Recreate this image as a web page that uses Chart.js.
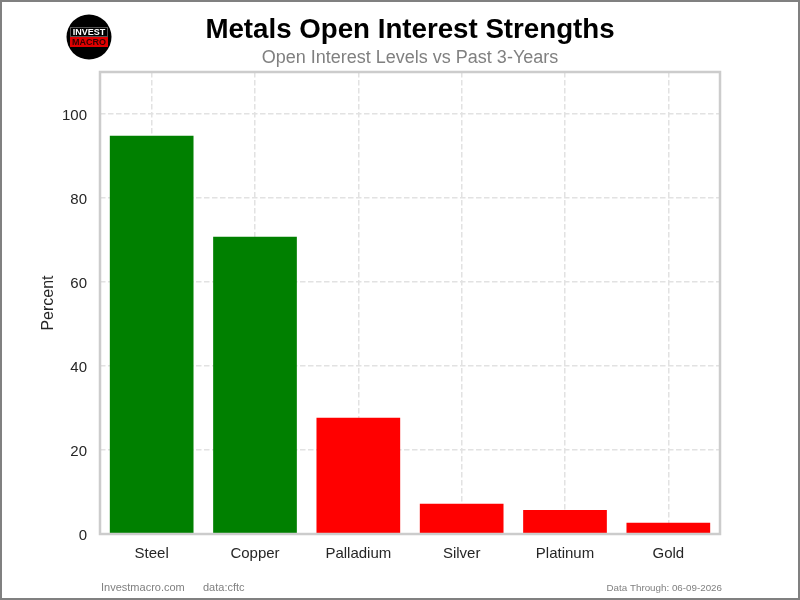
<!DOCTYPE html>
<html>
<head>
<meta charset="utf-8">
<title>Metals Open Interest Strengths</title>
<script src="https://cdn.jsdelivr.net/npm/chart.js@4/dist/chart.umd.min.js"></script>
<style>
  html, body { margin: 0; padding: 0; background: #fff; }
  #wrap { width: 800px; height: 600px; }
</style>
</head>
<body>
<div id="wrap"><canvas id="myChart" width="800" height="600"></canvas></div>
<script>
var categories = ["Steel", "Copper", "Palladium", "Silver", "Platinum", "Gold"];
var openInterest = [94.8, 70.8, 27.7, 7.2, 5.7, 2.7];
var barColors = ["#008000", "#008000", "#ff0000", "#ff0000", "#ff0000", "#ff0000"];
var yTicks = [0, 20, 40, 60, 80, 100];

var fontName = "'Liberation Sans', Arial, sans-serif";

function text(ctx, str, x, y, font, color, align) {
  ctx.font = font;
  ctx.fillStyle = color;
  ctx.textAlign = align || "left";
  ctx.textBaseline = "middle";
  ctx.fillText(str, x, y);
}

// badge in the top left corner
function drawLogo(ctx) {
  ctx.fillStyle = "#000";
  ctx.beginPath();
  ctx.arc(89, 37, 22.5, 0, Math.PI * 2);
  ctx.fill();
  ctx.strokeStyle = "#555";
  ctx.lineWidth = 1;
  ctx.strokeRect(70.5, 27.5, 37, 9);
  ctx.fillStyle = "#e00000";
  ctx.fillRect(70, 37, 38, 10);
  text(ctx, "INVEST", 89, 32.3, "bold 9px " + fontName, "#fff", "center");
  text(ctx, "MACRO", 89, 42.3, "bold 9px " + fontName, "#300", "center");
}

var decorations = {
  id: "decorations",
  afterDraw: function (chart) {
    var ctx = chart.ctx;
    var area = chart.chartArea;
    ctx.save();

    // plot frame
    ctx.strokeStyle = "#cccccc";
    ctx.lineWidth = 2.5;
    ctx.strokeRect(area.left, area.top, area.right - area.left, area.bottom - area.top);

    // outer border of the figure
    ctx.strokeStyle = "#808080";
    ctx.lineWidth = 2;
    ctx.strokeRect(1, 1, 798, 598);

    drawLogo(ctx);

    text(ctx, "Metals Open Interest Strengths", 410, 30, "bold 27.7px " + fontName, "#000", "center");
    text(ctx, "Open Interest Levels vs Past 3-Years", 410, 58, "18px " + fontName, "#808080", "center");

    text(ctx, "Investmacro.com", 101, 588, "11px " + fontName, "#808080");
    text(ctx, "data:cftc", 203, 588, "11px " + fontName, "#808080");
    text(ctx, "Data Through: 06-09-2026", 722, 588, "9.8px " + fontName, "#808080", "right");
    ctx.restore();
  }
};

new Chart(document.getElementById("myChart").getContext("2d"), {
  type: "bar",
  data: {
    labels: categories,
    datasets: [{
      data: openInterest,
      backgroundColor: barColors,
      barPercentage: 0.81,
      categoryPercentage: 1
    }]
  },
  plugins: [decorations],
  options: {
    responsive: false,
    animation: false,
    layout: { padding: { top: 72, right: 80, left: 0, bottom: 0 } },
    plugins: { legend: { display: false }, tooltip: { enabled: false } },
    scales: {
      x: {
        afterFit: function (scale) { scale.height = 66; },
        grid: { offset: false, color: "#e2e2e2", lineWidth: 1.5, drawTicks: false },
        border: { display: false, dash: [5.5, 2.5] },
        ticks: { color: "#262626", padding: 11, maxRotation: 0, font: { family: fontName, size: 15 } }
      },
      y: {
        min: 0,
        max: 110,
        afterFit: function (scale) { scale.width = 100; },
        afterBuildTicks: function (scale) {
          scale.ticks = yTicks.map(function (v) { return { value: v }; });
        },
        title: { display: true, text: "Percent", color: "#262626", padding: { top: 39, bottom: 0 }, font: { family: fontName, size: 16 } },
        grid: { color: "#e2e2e2", lineWidth: 1.5, drawTicks: false },
        border: { display: false, dash: [5.5, 2.5] },
        ticks: { color: "#262626", padding: 13, labelOffset: 1.5, font: { family: fontName, size: 15 } }
      }
    }
  }
});
</script>
</body>
</html>
